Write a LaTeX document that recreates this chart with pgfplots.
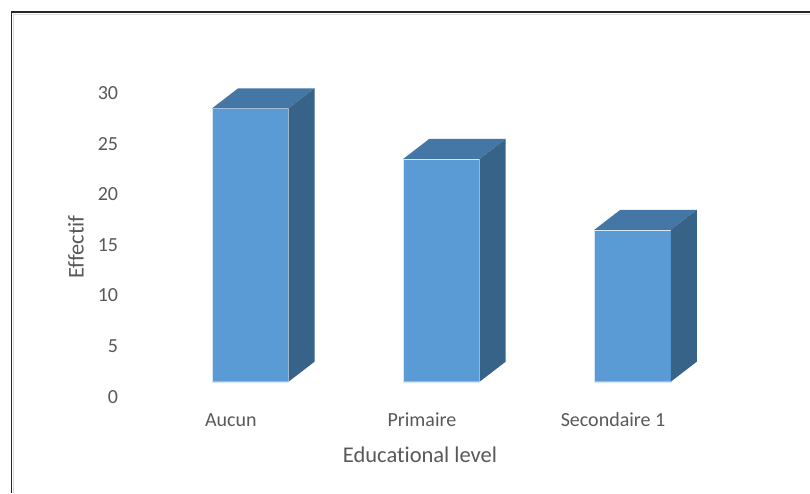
\documentclass[border=0pt]{standalone}
\usepackage{pgfplots}
\pgfplotsset{compat=1.18}
\usepackage{pgfplotstable}
\usepackage{fontspec}
\setmainfont{Carlito}[Ligatures={NoCommon}]
\definecolor{frontc}{HTML}{5B9BD5}
\definecolor{topc}{HTML}{4476A6}
\definecolor{sidec}{HTML}{386389}
\definecolor{txtc}{HTML}{595959}
\pgfplotstableread{
x v
0 27
1 22
2 15
}\data
\begin{document}
\begin{tikzpicture}[x=1pt,y=1pt]
\useasboundingbox (0,0) rectangle (810,493);
\fill[white] (0,0) rectangle (810,493);
\draw[line width=1.6pt,color=black!85] (11.5,0) -- (11.5,481) -- (810,481);
\draw[line width=0.8pt,color=black!15] (13.5,0) -- (13.5,479) -- (810,479);
\begin{axis}[
  at={(135.6pt,111.3pt)}, anchor=south west,
  scale only axis, width=611.6pt, height=303.7pt,
  xmin=-0.6, xmax=2.6, ymin=0, ymax=30,
  clip=false,
  axis line style={draw=none},
  major tick length=0pt,
  xtick={0,1,2},
  xticklabels={Aucun,Primaire,Secondaire 1},
  ytick={0,5,...,30},
  /pgf/number format/assume math mode=true,
  tick label style={font=\fontsize{20}{24}\selectfont, text=txtc},
  xticklabel style={anchor=base, xshift=-19.5pt, yshift=-45pt},
  yticklabel style={anchor=east, xshift=-14pt, yshift=-15pt},
  xlabel={Educational level},
  ylabel={Effectif},
  xlabel style={at={(axis description cs:0.465,-0.241)}, anchor=center, font=\fontsize{22.5}{26}\selectfont, text=txtc},
  ylabel style={at={(axis description cs:-0.0975,0.4435)}, anchor=center, font=\fontsize{22.5}{26}\selectfont, text=txtc},
]
\addplot[ybar, bar width=76.5pt, fill=frontc, draw=white!75!frontc, line width=0.4pt] table[x=x,y=v]{\data};
\addplot[scatter, only marks, mark=*, mark size=0pt, draw=none, fill=none,
  visualization depends on={\thisrow{v} \as \val},
  scatter/@pre marker code/.code={%
    \pgfplotspointaxisxy{0}{\val}\pgfgetlastxy{\ax}{\ay}%
    \pgfplotspointaxisxy{0}{0}\pgfgetlastxy{\bx}{\by}%
    \pgfmathsetmacro\hh{\ay-\by}%
    \pgfmathsetmacro\lo{20-\hh}%
    \pgfmathsetmacro\lm{-\hh}%
    \fill[topc] (-38.25pt,0pt) -- (38.25pt,0pt) -- (64.25pt,20pt) -- (-12.25pt,20pt) -- cycle;
    \fill[sidec] (38.25pt,0pt) -- (64.25pt,20pt) -- (64.25pt,\lo pt) -- (38.25pt,\lm pt) -- cycle;
  },
  scatter/@post marker code/.code={}
] table[x=x,y=v]{\data};
\end{axis}
\end{tikzpicture}
\end{document}
